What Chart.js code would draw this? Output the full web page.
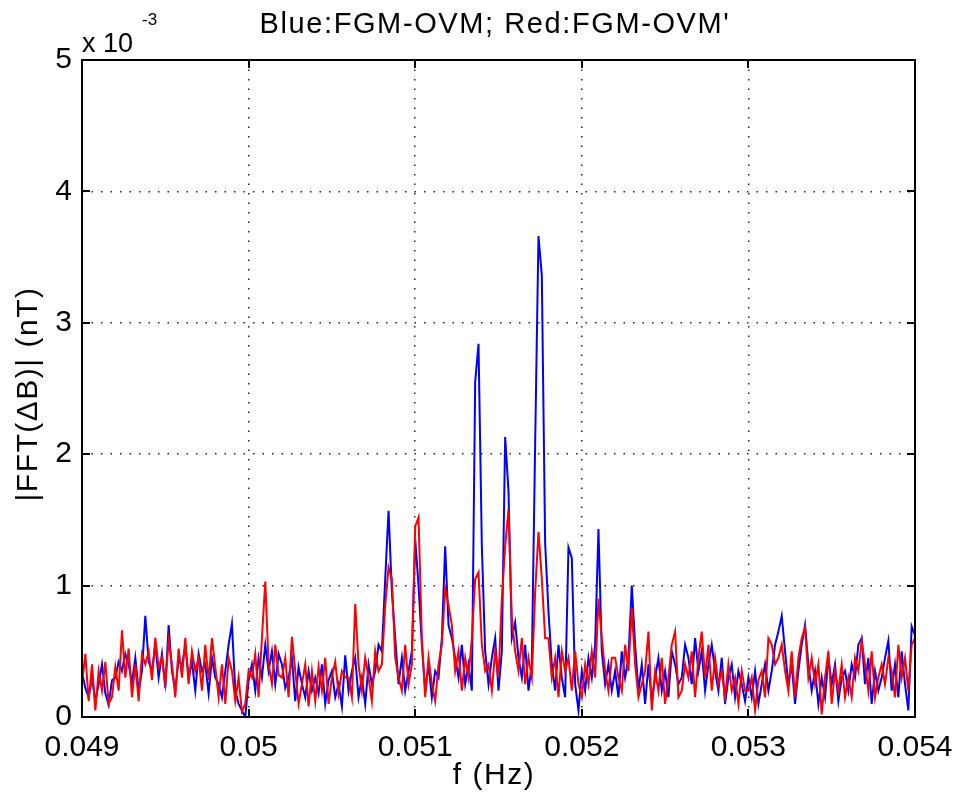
<!DOCTYPE html>
<html lang="en">
<head>
    <meta charset="UTF-8">
    <title>FFT spectrum - FGM vs OVM</title>
    <script src="https://cdn.jsdelivr.net/npm/chart.js"></script>
    <style>
        body {
            margin: 0;
            background: #fff;
        }
        #wrap {
            width: 959px;
            height: 801px;
        }
    </style>
</head>
<body>
    <div id="wrap">
        <canvas id="fft-chart" width="959" height="801"></canvas>
    </div>

    <script>
        // frequency grid of the spectrum (Hz)
        const freqStart = 0.049;
        const freqStep = 0.00002;

        // |FFT(dB)| in units of 1e-3 nT
        const blueVals = [
            0.34, 0.22, 0.15, 0.30, 0.12, 0.25, 0.40, 0.18, 0.09, 0.28,
            0.30, 0.42, 0.35, 0.48, 0.40, 0.26, 0.45, 0.20, 0.35, 0.77,
            0.42, 0.35, 0.55, 0.30, 0.48, 0.22, 0.70, 0.35, 0.20, 0.45,
            0.38, 0.55, 0.30, 0.42, 0.20, 0.48, 0.35, 0.40, 0.18, 0.45,
            0.30, 0.25, 0.15, 0.35, 0.55, 0.71, 0.20, 0.10, 0.05, 0.00,
            0.28, 0.40, 0.20, 0.45, 0.30, 0.55, 0.35, 0.50, 0.25, 0.48,
            0.40, 0.22, 0.30, 0.45, 0.12, 0.38, 0.25, 0.15, 0.35, 0.20,
            0.30, 0.18, 0.40, 0.10, 0.28, 0.35, 0.15, 0.25, 0.08, 0.47,
            0.20, 0.35, 0.45, 0.15, 0.30, 0.10, 0.40, 0.25, 0.35, 0.55,
            0.50, 1.05, 1.57, 0.95, 0.60, 0.25, 0.45, 0.20, 0.35, 0.50,
            1.35, 1.00, 0.55, 0.20, 0.40, 0.15, 0.35, 0.30, 0.60, 1.30,
            0.70, 0.60, 0.45, 0.30, 0.55, 0.25, 0.40, 0.20, 2.55, 2.84,
            1.30, 0.50, 0.25, 0.45, 0.60, 0.20, 0.50, 2.13, 1.72, 0.60,
            0.72, 0.45, 0.30, 0.55, 0.20, 0.40, 2.08, 3.66, 3.36, 1.32,
            0.80, 0.40, 0.20, 0.55, 0.30, 0.15, 1.29, 1.21, 0.25, 0.05,
            0.35, 0.20, 0.45, 0.30, 0.55, 1.43, 0.50, 0.25, 0.40, 0.20,
            0.35, 0.15, 0.50, 0.30, 0.45, 1.00, 0.55, 0.20, 0.40, 0.10,
            0.40, 0.12, 0.30, 0.45, 0.20, 0.35, 0.15, 0.50, 0.40, 0.25,
            0.30, 0.55, 0.45, 0.25, 0.60, 0.35, 0.50, 0.20, 0.40, 0.55,
            0.35, 0.20, 0.45, 0.10, 0.30, 0.40, 0.15, 0.35, 0.25, 0.12,
            0.30, 0.15, 0.35, 0.10, 0.25, 0.40, 0.20, 0.35, 0.55, 0.65,
            0.77, 0.50, 0.25, 0.40, 0.10, 0.35, 0.55, 0.70, 0.40, 0.20,
            0.35, 0.10, 0.30, 0.15, 0.45, 0.25, 0.40, 0.12, 0.30, 0.35,
            0.20, 0.40, 0.30, 0.55, 0.60, 0.25, 0.45, 0.10, 0.35, 0.20,
            0.30, 0.45, 0.58, 0.20, 0.40, 0.15, 0.50, 0.25, 0.05, 0.69, 0.62
        ];
        const redVals = [
            0.25, 0.48, 0.12, 0.40, 0.05, 0.35, 0.20, 0.42, 0.10, 0.15,
            0.38, 0.20, 0.66, 0.30, 0.52, 0.15, 0.40, 0.12, 0.48, 0.40,
            0.50, 0.28, 0.60, 0.38, 0.45, 0.25, 0.58, 0.40, 0.15, 0.52,
            0.30, 0.60, 0.25, 0.50, 0.35, 0.45, 0.20, 0.55, 0.28, 0.60,
            0.38, 0.15, 0.40, 0.10, 0.45, 0.35, 0.12, 0.30, 0.04, 0.10,
            0.35, 0.30, 0.48, 0.15, 0.60, 1.03, 0.40, 0.25, 0.55, 0.32,
            0.30, 0.45, 0.15, 0.61, 0.35, 0.10, 0.25, 0.40, 0.08, 0.35,
            0.12, 0.38, 0.20, 0.45, 0.10, 0.30, 0.42, 0.18, 0.35, 0.30,
            0.30, 0.15, 0.86, 0.40, 0.20, 0.45, 0.30, 0.12, 0.50, 0.35,
            0.40, 0.85, 1.14, 1.05, 0.45, 0.30, 0.20, 0.55, 0.25, 0.40,
            1.45, 1.52, 0.60, 0.15, 0.45, 0.25, 0.12, 0.40, 0.55, 0.98,
            0.85, 0.70, 0.35, 0.50, 0.20, 0.45, 0.30, 0.60, 1.05, 1.10,
            0.55, 0.35, 0.40, 0.20, 0.50, 0.30, 0.90, 1.30, 1.58, 0.75,
            0.50, 0.35, 0.60, 0.25, 0.45, 0.30, 0.95, 1.41, 1.05, 0.60,
            0.60, 0.30, 0.45, 0.15, 0.50, 0.35, 0.45, 0.20, 0.50, 0.25,
            0.15, 0.40, 0.25, 0.50, 0.30, 0.90, 0.60, 0.35, 0.20, 0.45,
            0.45, 0.30, 0.20, 0.55, 0.35, 0.83, 0.40, 0.15, 0.25, 0.35,
            0.65, 0.05, 0.35, 0.20, 0.45, 0.10, 0.30, 0.55, 0.65, 0.15,
            0.20, 0.40, 0.30, 0.50, 0.15, 0.45, 0.65, 0.30, 0.55, 0.20,
            0.45, 0.25, 0.35, 0.15, 0.40, 0.20, 0.30, 0.10, 0.35, 0.20,
            0.20, 0.30, 0.05, 0.28, 0.35, 0.15, 0.60, 0.55, 0.40, 0.45,
            0.55, 0.35, 0.20, 0.50, 0.15, 0.45, 0.60, 0.68, 0.30, 0.45,
            0.25, 0.40, 0.02, 0.30, 0.50, 0.10, 0.35, 0.20, 0.40, 0.15,
            0.30, 0.15, 0.45, 0.35, 0.58, 0.40, 0.20, 0.50, 0.15, 0.30,
            0.40, 0.25, 0.45, 0.35, 0.15, 0.55, 0.30, 0.45, 0.20, 0.55, 0.60
        ];

        const xTicks = [0.049, 0.050, 0.051, 0.052, 0.053, 0.054];
        const yTicks = [0, 1, 2, 3, 4, 5];

        const chartTitle = "Blue:FGM-OVM; Red:FGM-OVM'";
        const xTitle = 'f (Hz)';
        const yTitle = '|FFT(\u0394B)| (nT)';

        const FONT = '"Liberation Sans", Arial, sans-serif';

        function toPoints(vals) {
            return vals.map((v, i) => ({ x: freqStart + i * freqStep, y: v }));
        }

        // box, inward ticks, titles and the exponent note, Matlab style
        const matlabFrame = {
            id: 'matlabFrame',
            afterDraw(chart) {
                const { ctx, chartArea: a, scales } = chart;
                ctx.save();
                ctx.strokeStyle = '#000';
                ctx.lineWidth = 2;
                ctx.strokeRect(a.left, a.top, a.right - a.left, a.bottom - a.top);

                const tl = 8;
                ctx.beginPath();
                xTicks.forEach(t => {
                    const px = Math.round(scales.x.getPixelForValue(t));
                    ctx.moveTo(px, a.bottom); ctx.lineTo(px, a.bottom - tl);
                    ctx.moveTo(px, a.top); ctx.lineTo(px, a.top + tl);
                });
                yTicks.forEach(t => {
                    const py = Math.round(scales.y.getPixelForValue(t));
                    ctx.moveTo(a.left, py); ctx.lineTo(a.left + tl, py);
                    ctx.moveTo(a.right, py); ctx.lineTo(a.right - tl, py);
                });
                ctx.stroke();

                ctx.fillStyle = '#000';
                ctx.textAlign = 'center';
                ctx.textBaseline = 'middle';
                ctx.font = '29px ' + FONT;
                ctx.letterSpacing = '1.6px';
                ctx.fillText(chartTitle, 495, 25);

                ctx.font = '30px ' + FONT;
                ctx.letterSpacing = '1.5px';
                ctx.fillText(xTitle, 494, 776);

                ctx.save();
                ctx.translate(29, 394);
                ctx.rotate(-Math.PI / 2);
                ctx.fillText(yTitle, 0, 0);
                ctx.restore();

                // x 10^-3
                ctx.letterSpacing = '0px';
                ctx.textAlign = 'left';
                ctx.textBaseline = 'alphabetic';
                ctx.font = '27px ' + FONT;
                ctx.fillText('x 10', a.left, 52);
                ctx.font = '17px ' + FONT;
                ctx.fillText('-3', a.left + 60, 25);
                ctx.restore();
            }
        };

        new Chart(document.getElementById('fft-chart'), {
            type: 'line',
            data: {
                datasets: [
                    {
                        label: 'FGM-OVM\'',
                        data: toPoints(redVals),
                        borderColor: '#ff0000',
                        borderWidth: 2,
                        pointRadius: 0,
                        tension: 0,
                        fill: false
                    },
                    {
                        label: 'FGM-OVM',
                        data: toPoints(blueVals),
                        borderColor: '#0000ff',
                        borderWidth: 2,
                        pointRadius: 0,
                        tension: 0,
                        fill: false
                    }
                ]
            },
            options: {
                responsive: false,
                animation: false,
                devicePixelRatio: 1,
                layout: {
                    padding: { left: 0, right: 44, top: 60, bottom: 0 }
                },
                plugins: {
                    legend: { display: false },
                    tooltip: { enabled: false },
                    title: { display: false }
                },
                scales: {
                    x: {
                        type: 'linear',
                        min: 0.049,
                        max: 0.054,
                        afterFit: s => {
                            s.height = 84;
                            s.paddingLeft = 0;
                            s.paddingRight = 0;
                        },
                        afterBuildTicks: s => { s.ticks = xTicks.map(v => ({ value: v })); },
                        ticks: {
                            color: '#000',
                            padding: 13,
                            maxRotation: 0,
                            font: { family: FONT, size: 30 },
                            callback: v => String(parseFloat(v.toFixed(3)))
                        },
                        grid: {
                            color: '#222',
                            lineWidth: 1.5,
                            drawTicks: false
                        },
                        border: { display: false, dash: [1.5, 8] }
                    },
                    y: {
                        min: 0,
                        max: 5,
                        afterFit: s => {
                            s.width = 82;
                            s.paddingTop = 0;
                            s.paddingBottom = 0;
                        },
                        afterBuildTicks: s => { s.ticks = yTicks.map(v => ({ value: v })); },
                        ticks: {
                            color: '#000',
                            padding: 10,
                            font: { family: FONT, size: 30 },
                            callback: v => String(v)
                        },
                        grid: {
                            color: '#222',
                            lineWidth: 1.5,
                            drawTicks: false
                        },
                        border: { display: false, dash: [1.5, 8] }
                    }
                }
            },
            plugins: [matlabFrame]
        });
    </script>
</body>
</html>
